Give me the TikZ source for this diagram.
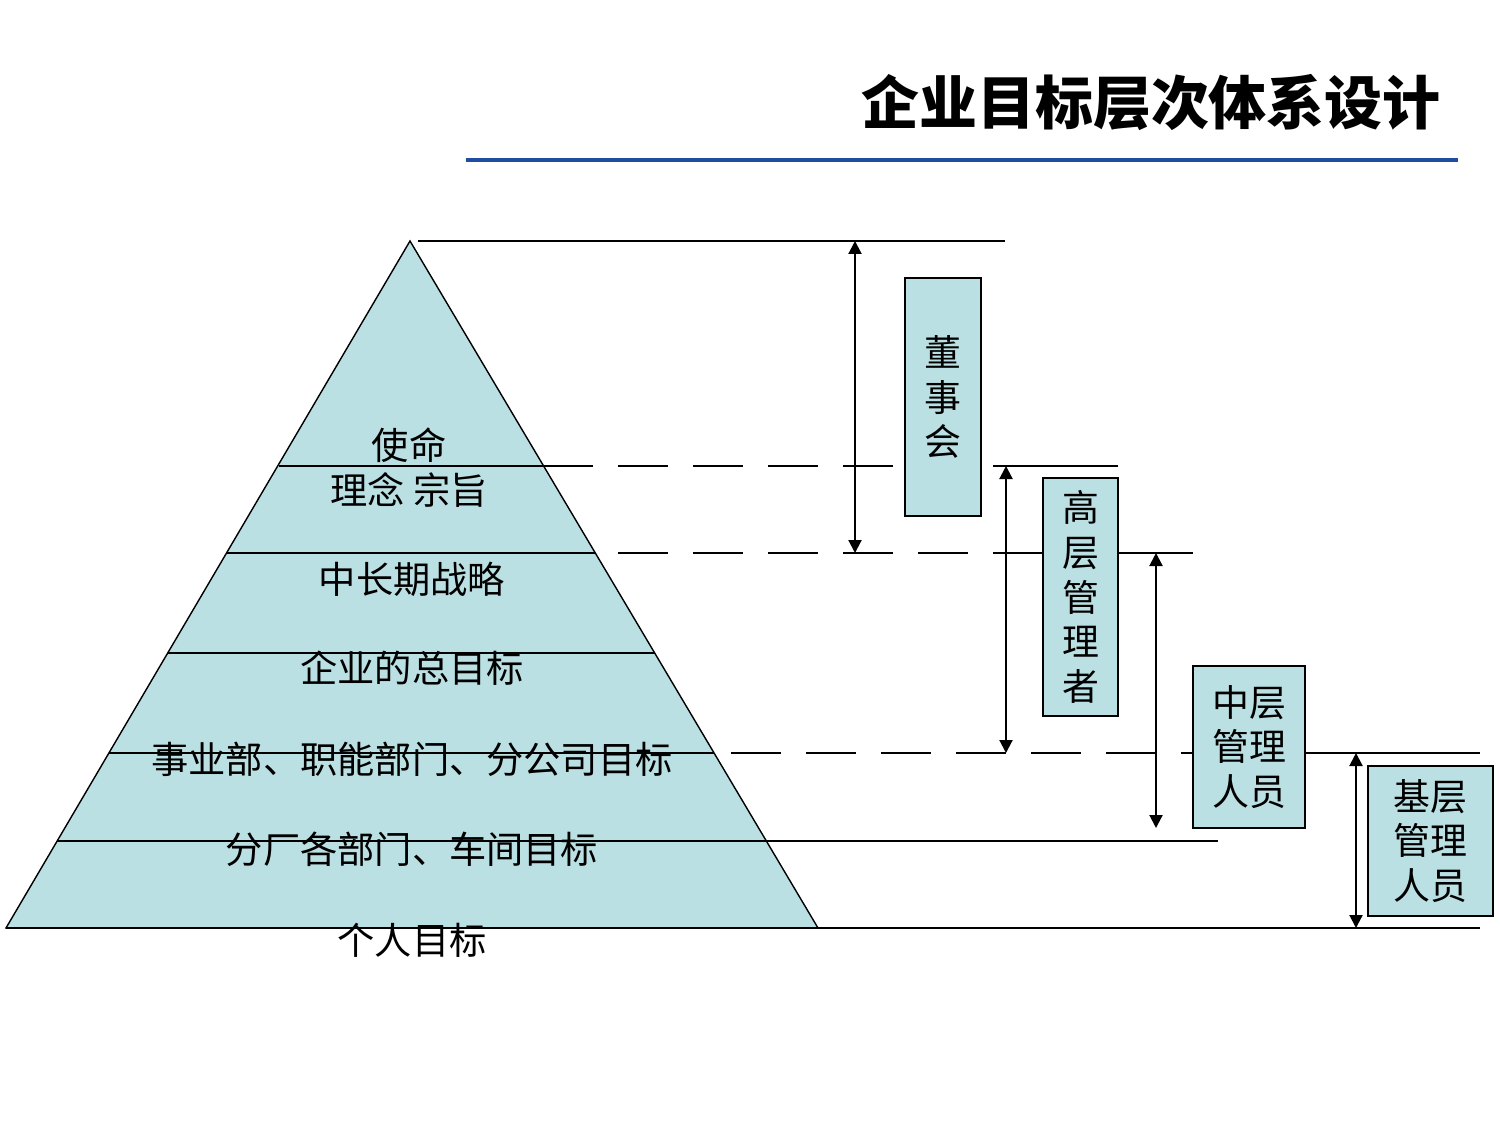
\documentclass[tikz,border=0pt]{standalone}
\usepackage{fontspec}
\setmainfont{Noto Sans CJK SC}
\usepackage{xcolor}
\usepackage{tikz}
\usetikzlibrary{arrows.meta}
\definecolor{levelfill}{HTML}{BBE0E3}
\definecolor{titleblue}{HTML}{1F4EA0}
\tikzset{
  level/.style={font=\fontsize{21.2pt}{25.5pt}\selectfont, inner sep=0pt},
  rolebox/.style={draw, fill=levelfill, line width=0.8pt, inner sep=0pt, align=center,
    font=\fontsize{21pt}{25.5pt}\selectfont},
  span/.style={{Triangle[length=0.26cm,width=0.26cm]}-{Triangle[length=0.26cm,width=0.26cm]}, line width=1.2pt},
  tier/.style={dash pattern=on 1cm off 0.5cm}
}
\begin{document}
\begin{tikzpicture}[x=0.02cm, y=-0.02cm, line width=0.8pt]
\useasboundingbox (0,0) rectangle (1500,1125);
\node[font=\fontsize{33pt}{40pt}\selectfont\bfseries] (title) at (1151,103) {企业目标层次体系设计};
\draw[titleblue, line width=2.2pt] (466,160) -- (1458,160);
\draw[fill=levelfill] (410,241) -- (6,928) -- (818,928) -- cycle;
\draw (418,241) -- (1005,241);
\draw (279,466) -- (543,466);
\draw (227,553) -- (595,553);
\draw (168,653) -- (655,653);
\draw (109,753) -- (714,753);
\draw (57,841) -- (1218,841);
\draw (6,928) -- (1480,928);
\draw[tier] (543,466) -- (993,466);
\draw (993,466) -- (1118,466);
\draw[tier] (543,553) -- (1043,553);
\draw (1118,553) -- (1193,553);
\draw[tier] (731,753) -- (1193,753);
\draw (1305,753) -- (1480,753);
\node[rolebox, minimum width=1.52cm, minimum height=4.76cm] (board) at (943,397) {\raisebox{-3pt}{\parbox{1em}{\centering 董\\事\\会}}};
\node[rolebox, minimum width=1.5cm, minimum height=4.76cm] (top) at (1080.5,597) {\raisebox{-3pt}{\parbox{1em}{\centering 高\\层\\管\\理\\者}}};
\node[rolebox, minimum width=2.24cm, minimum height=3.24cm] (middle) at (1249,747) {\raisebox{-3pt}{\parbox{2em}{\centering 中层\\管理\\人员}}};
\node[rolebox, minimum width=2.5cm, minimum height=3cm] (base) at (1430.5,841) {\raisebox{-3pt}{\parbox{2em}{\centering 基层\\管理\\人员}}};
\coordinate (boardT) at (855,241);
\coordinate (boardB) at (855,553);
\coordinate (topT) at (1006,466);
\coordinate (topB) at (1006,753);
\coordinate (middleT) at (1156,553);
\coordinate (middleB) at (1156,828);
\coordinate (baseT) at (1356,753);
\coordinate (baseB) at (1356,928);
\draw[span] (boardT) -- (boardB);
\draw[span] (topT) -- (topB);
\draw[span] (middleT) -- (middleB);
\draw[span] (baseT) -- (baseB);
\node[level, align=center, text depth=0pt] (mission) at (409,466) {使命\\理念 宗旨};
\node[level] (strategy) at (412,579) {中长期战略};
\node[level] (overall) at (412,668) {企业的总目标};
\node[level] (division) at (412,759) {事业部、职能部门、分公司目标};
\node[level] (plant) at (412,849) {分厂各部门、车间目标};
\node[level] (personal) at (412,940) {个人目标};
\end{tikzpicture}
\end{document}
